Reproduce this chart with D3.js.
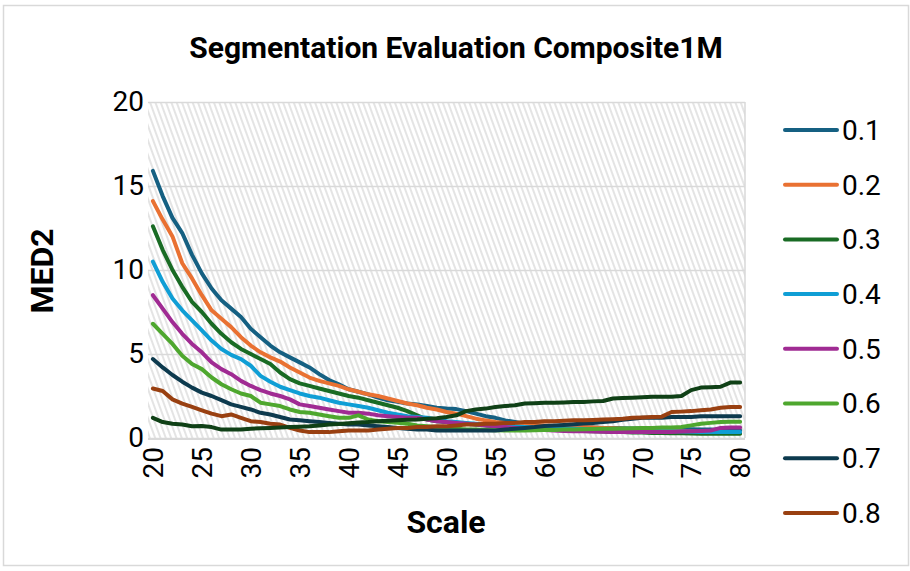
<!DOCTYPE html>
<html>
<head>
<meta charset="utf-8">
<script src="https://cdn.jsdelivr.net/npm/d3@7"></script>
<style>
  html, body { margin: 0; padding: 0; background: #ffffff; }
  svg text { font-family: Roboto, "Noto Sans", sans-serif; fill: #000; }
</style>
</head>
<body>
<div id="chart"></div>
<script>
// category axis: Scale
const scales = [20, 21, 22, 23, 24, 25, 26, 27, 28, 29,
  30, 31, 32, 33, 34, 35, 36, 37, 38, 39,
  40, 41, 42, 43, 44, 45, 46, 47, 48, 49,
  50, 51, 52, 53, 54, 55, 56, 57, 58, 59,
  60, 61, 62, 63, 64, 65, 66, 67, 68, 69,
  70, 71, 72, 73, 74, 75, 76, 77, 78, 79, 80];

const seriesNames = ["0.1", "0.2", "0.3", "0.4", "0.5", "0.6", "0.7", "0.8", "0.9"];
const seriesColors = ["#156082", "#E97132", "#196B24", "#0F9ED5", "#A02B93", "#4EA72E", "#0D3A4E", "#994011", "#0F4016"];

const med01 = [15.9, 14.4, 13.1, 12.2, 10.9, 9.8, 8.9, 8.2, 7.7, 7.2,
  6.5, 6.0, 5.5, 5.1, 4.8, 4.5, 4.2, 3.8, 3.45, 3.2,
  2.9, 2.75, 2.6, 2.4, 2.25, 2.15, 2.05, 2.0, 1.9, 1.8,
  1.75, 1.72, 1.6, 1.45, 1.3, 1.2, 1.05, 0.95, 0.85, 0.75,
  0.7, 0.68, 0.66, 0.65, 0.64, 0.62, 0.6, 0.6, 0.58, 0.57,
  0.56, 0.55, 0.55, 0.54, 0.53, 0.52, 0.5, 0.5, 0.48, 0.47, 0.46];
const med02 = [14.1, 13.0, 12.0, 10.4, 9.5, 8.5, 7.6, 7.1, 6.6, 6.0,
  5.5, 5.1, 4.8, 4.55, 4.2, 3.9, 3.6, 3.4, 3.25, 3.1,
  2.9, 2.75, 2.6, 2.5, 2.35, 2.2, 2.05, 1.95, 1.8, 1.7,
  1.55, 1.45, 1.3, 1.15, 1.05, 0.95, 0.9, 0.85, 0.8, 0.78,
  0.75, 0.72, 0.7, 0.68, 0.65, 0.62, 0.6, 0.58, 0.55, 0.52,
  0.5, 0.48, 0.45, 0.43, 0.4, 0.38, 0.35, 0.33, 0.32, 0.3, 0.3];
const med03 = [12.6, 11.2, 10.0, 9.0, 8.1, 7.5, 6.8, 6.2, 5.7, 5.3,
  5.0, 4.7, 4.4, 3.9, 3.5, 3.25, 3.1, 2.95, 2.8, 2.65,
  2.5, 2.4, 2.25, 2.1, 1.95, 1.8, 1.6, 1.35, 1.1, 1.0,
  0.95, 0.9, 0.85, 0.8, 0.75, 0.7, 0.65, 0.6, 0.58, 0.55,
  0.52, 0.5, 0.48, 0.45, 0.42, 0.4, 0.38, 0.36, 0.35, 0.33,
  0.32, 0.3, 0.3, 0.28, 0.28, 0.27, 0.26, 0.25, 0.25, 0.25, 0.25];
const med04 = [10.5, 9.3, 8.3, 7.6, 7.0, 6.4, 5.8, 5.3, 4.95, 4.7,
  4.3, 3.7, 3.35, 3.05, 2.85, 2.65, 2.5, 2.4, 2.25, 2.1,
  2.0, 1.9, 1.8, 1.65, 1.5, 1.4, 1.3, 1.25, 1.2, 1.1,
  1.0, 0.95, 0.9, 0.85, 0.8, 0.75, 0.7, 0.68, 0.65, 0.62,
  0.6, 0.58, 0.56, 0.55, 0.53, 0.52, 0.5, 0.48, 0.47, 0.45,
  0.44, 0.42, 0.4, 0.4, 0.38, 0.37, 0.36, 0.35, 0.35, 0.35, 0.35];
const med05 = [8.5, 7.7, 6.9, 6.2, 5.6, 5.1, 4.5, 4.1, 3.8, 3.4,
  3.1, 2.85, 2.65, 2.5, 2.3, 2.0, 1.9, 1.8, 1.7, 1.6,
  1.5, 1.5, 1.45, 1.35, 1.3, 1.25, 1.2, 1.2, 1.1, 1.0,
  0.95, 0.9, 0.85, 0.8, 0.75, 0.7, 0.65, 0.6, 0.55, 0.5,
  0.48, 0.45, 0.42, 0.4, 0.4, 0.38, 0.37, 0.36, 0.35, 0.35,
  0.35, 0.35, 0.35, 0.35, 0.38, 0.4, 0.42, 0.45, 0.6, 0.62, 0.62];
const med06 = [6.8, 6.2, 5.6, 4.9, 4.4, 4.1, 3.6, 3.2, 2.9, 2.65,
  2.5, 2.1, 2.0, 1.9, 1.7, 1.55, 1.5, 1.4, 1.3, 1.2,
  1.2, 1.35, 1.1, 1.0, 0.95, 0.9, 0.85, 0.75, 0.7, 0.65,
  0.6, 0.55, 0.5, 0.5, 0.48, 0.46, 0.45, 0.45, 0.45, 0.46,
  0.47, 0.48, 0.5, 0.5, 0.52, 0.53, 0.55, 0.55, 0.57, 0.58,
  0.6, 0.6, 0.62, 0.63, 0.65, 0.75, 0.85, 0.9, 0.95, 0.97, 0.97];
const med07 = [4.7, 4.2, 3.75, 3.35, 3.0, 2.7, 2.5, 2.25, 2.0, 1.85,
  1.7, 1.5, 1.4, 1.25, 1.1, 1.05, 1.0, 0.95, 0.9, 0.85,
  0.8, 0.8, 0.75, 0.7, 0.65, 0.6, 0.55, 0.5, 0.5, 0.45,
  0.45, 0.45, 0.45, 0.45, 0.45, 0.45, 0.5, 0.55, 0.6, 0.65,
  0.72, 0.75, 0.78, 0.82, 0.86, 0.9, 0.95, 1.0, 1.08, 1.15,
  1.2, 1.2, 1.2, 1.25, 1.25, 1.25, 1.3, 1.3, 1.3, 1.3, 1.3];
const med08 = [2.95, 2.8, 2.3, 2.05, 1.85, 1.65, 1.45, 1.3, 1.4, 1.2,
  1.0, 0.95, 0.85, 0.8, 0.6, 0.45, 0.35, 0.35, 0.35, 0.4,
  0.45, 0.45, 0.45, 0.5, 0.55, 0.6, 0.6, 0.65, 0.65, 0.7,
  0.7, 0.75, 0.8, 0.8, 0.85, 0.85, 0.9, 0.9, 0.95, 0.95,
  1.0, 1.0, 1.02, 1.05, 1.05, 1.07, 1.1, 1.12, 1.15, 1.2,
  1.22, 1.25, 1.27, 1.55, 1.57, 1.6, 1.65, 1.7, 1.8, 1.85, 1.85];
const med09 = [1.2, 0.95, 0.85, 0.8, 0.7, 0.72, 0.65, 0.5, 0.5, 0.5,
  0.55, 0.58, 0.6, 0.62, 0.65, 0.67, 0.7, 0.75, 0.8, 0.83,
  0.88, 0.92, 0.95, 1.0, 1.02, 1.05, 1.08, 1.1, 1.15, 1.18,
  1.25, 1.35, 1.6, 1.7, 1.75, 1.85, 1.9, 1.95, 2.05, 2.07,
  2.1, 2.1, 2.12, 2.15, 2.15, 2.18, 2.2, 2.35, 2.38, 2.4,
  2.42, 2.45, 2.45, 2.45, 2.5, 2.85, 3.0, 3.02, 3.05, 3.3, 3.3];

const yTicks = [0, 5, 10, 15, 20];
const xTicks = [20, 25, 30, 35, 40, 45, 50, 55, 60, 65, 70, 75, 80];

const allSeries = [med01, med02, med03, med04, med05, med06, med07, med08, med09];

const W = 910, H = 571;
const plot = { left: 148, right: 745, top: 102, bottom: 438 };

const svg = d3.select("#chart").append("svg")
  .attr("width", W)
  .attr("height", H);

const defs = svg.append("defs");

// Excel-like patterned plot area
const pat = defs.append("pattern")
  .attr("id", "hatch")
  .attr("patternUnits", "userSpaceOnUse")
  .attr("width", 5)
  .attr("height", 5)
  .attr("patternTransform", "rotate(-20)");
pat.append("rect").attr("width", 5).attr("height", 5).attr("fill", "#ffffff");
pat.append("rect").attr("x", 0).attr("width", 2).attr("height", 5).attr("fill", "#e4e4e4");

defs.append("clipPath").attr("id", "frameClip")
  .append("rect").attr("x", 3).attr("y", 5).attr("width", 906).attr("height", 561);

// chart frame
svg.append("rect")
  .attr("x", 3.5).attr("y", 5.5)
  .attr("width", 905).attr("height", 560)
  .attr("fill", "#ffffff")
  .attr("stroke", "#d9d9d9")
  .attr("stroke-width", 1.5);

const x = d3.scalePoint()
  .domain(scales)
  .range([plot.left, plot.right])
  .padding(0.5);

const y = d3.scaleLinear()
  .domain([0, 20])
  .range([plot.bottom, plot.top]);

// plot area
svg.append("rect")
  .attr("x", plot.left).attr("y", plot.top)
  .attr("width", plot.right - plot.left)
  .attr("height", plot.bottom - plot.top)
  .attr("fill", "url(#hatch)");

// horizontal gridlines
svg.append("g")
  .attr("transform", `translate(${plot.left},0)`)
  .call(d3.axisLeft(y).tickValues(yTicks).tickSize(-(plot.right - plot.left)).tickFormat(""))
  .call(g => g.select(".domain").remove())
  .selectAll("line")
  .attr("stroke", "#d9d9d9")
  .attr("stroke-width", 1.5);

// right border of plot area
svg.append("line")
  .attr("x1", plot.right).attr("x2", plot.right)
  .attr("y1", plot.top).attr("y2", plot.bottom)
  .attr("stroke", "#d9d9d9")
  .attr("stroke-width", 1.5);

// y axis labels
svg.append("g")
  .attr("transform", `translate(${plot.left},0)`)
  .call(d3.axisLeft(y).tickValues(yTicks).tickSize(0).tickPadding(4))
  .call(g => g.select(".domain").remove())
  .selectAll("text")
  .attr("font-size", 28)
  .attr("font-family", "Roboto, sans-serif")
  .attr("fill", "#000");

// x axis
const xAxisG = svg.append("g")
  .attr("transform", `translate(0,${plot.bottom})`)
  .call(d3.axisBottom(x).tickValues(xTicks).tickSize(0));
xAxisG.select(".domain")
  .attr("stroke", "#d9d9d9")
  .attr("stroke-width", 2)
  .attr("d", `M${plot.left},1H${plot.right}`);
xAxisG.selectAll("text")
  .attr("font-size", 28)
  .attr("font-family", "Roboto, sans-serif")
  .attr("fill", "#000")
  .attr("text-anchor", "end")
  .attr("dy", "0.35em")
  .attr("transform", "translate(0,9) rotate(-90)")
  .attr("x", 0)
  .attr("y", 0);

// lines
const line = d3.line()
  .x((d, i) => x(scales[i]))
  .y(d => y(d));

svg.append("g")
  .selectAll("path")
  .data(allSeries)
  .join("path")
  .attr("d", line)
  .attr("fill", "none")
  .attr("stroke", (d, i) => seriesColors[i])
  .attr("stroke-width", 4)
  .attr("stroke-linejoin", "round")
  .attr("stroke-linecap", "round");

// title & axis titles
svg.append("text")
  .attr("x", 456).attr("y", 58)
  .attr("text-anchor", "middle")
  .attr("font-size", 30)
  .attr("font-weight", "bold")
  .text("Segmentation Evaluation Composite1M");

svg.append("text")
  .attr("x", 446).attr("y", 533)
  .attr("text-anchor", "middle")
  .attr("font-size", 32)
  .attr("font-weight", "bold")
  .text("Scale");

svg.append("text")
  .attr("transform", "translate(53,271) rotate(-90)")
  .attr("text-anchor", "middle")
  .attr("font-size", 32)
  .attr("font-weight", "bold")
  .text("MED2");

// legend (entries that do not fit in the frame are dropped)
const legendTop = 130, legendStep = 54.7;
const legendItems = seriesNames
  .map((name, i) => ({ name, color: seriesColors[i], cy: legendTop + i * legendStep }))
  .filter(d => d.cy + 14 < 566);

const legend = svg.append("g").attr("clip-path", "url(#frameClip)");
const li = legend.selectAll("g")
  .data(legendItems)
  .join("g")
  .attr("transform", d => `translate(0,${d.cy})`);
li.append("line")
  .attr("x1", 785).attr("x2", 837)
  .attr("stroke", d => d.color)
  .attr("stroke-width", 4)
  .attr("stroke-linecap", "round");
li.append("text")
  .attr("x", 842)
  .attr("dy", "0.35em")
  .attr("font-size", 28)
  .text(d => d.name);
</script>
</body>
</html>
